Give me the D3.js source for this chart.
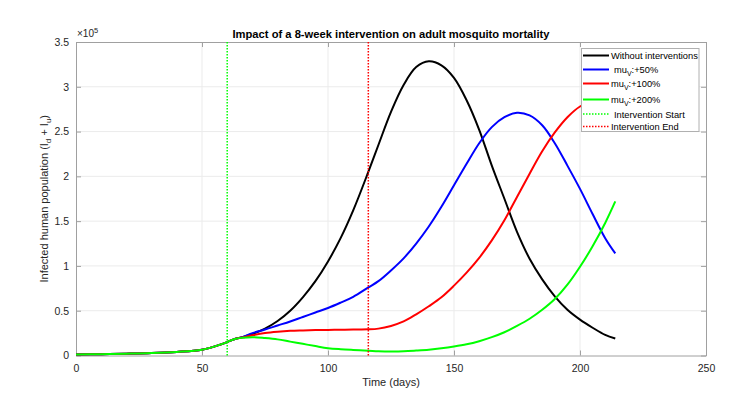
<!DOCTYPE html>
<html><head><meta charset="utf-8">
<script src="https://cdn.jsdelivr.net/npm/d3@7"></script>
<style>
body{margin:0;background:#fff;}
svg{display:block;font-family:"Liberation Sans",Arial,Helvetica,sans-serif;}
</style></head>
<body><svg id="c" width="737" height="398"></svg>
<script>
// ---- data (values in units of 1e5) ----
const days = [0,10,20,30,40,50,56,60,63,66,70,75,80,85,90,95,100,105,110,116,120,125,130,135,140,145,150,155,160,165,170,175,180,185,190,195,200,205,210,214];
const noIntervention = [0.01,0.015,0.02,0.027,0.04,0.065,0.11,0.15,0.185,0.205,0.24,0.30,0.385,0.50,0.65,0.83,1.05,1.31,1.62,2.05,2.35,2.72,3.02,3.22,3.285,3.24,3.10,2.85,2.52,2.12,1.75,1.38,1.08,0.85,0.66,0.51,0.40,0.31,0.23,0.19];
const mu50  = [0.01,0.015,0.02,0.027,0.04,0.065,0.11,0.15,0.185,0.205,0.25,0.29,0.335,0.38,0.43,0.48,0.53,0.59,0.655,0.76,0.83,0.95,1.085,1.25,1.44,1.66,1.90,2.14,2.37,2.55,2.66,2.71,2.68,2.57,2.37,2.12,1.86,1.58,1.31,1.14];
const mu100 = [0.01,0.015,0.02,0.027,0.04,0.065,0.11,0.15,0.185,0.2,0.225,0.25,0.265,0.275,0.28,0.284,0.286,0.288,0.29,0.292,0.30,0.33,0.38,0.46,0.55,0.65,0.78,0.925,1.09,1.285,1.51,1.77,2.03,2.28,2.49,2.66,2.78,2.84,2.86,2.85];
const mu200 = [0.01,0.015,0.02,0.027,0.04,0.065,0.11,0.15,0.185,0.198,0.205,0.195,0.18,0.155,0.13,0.105,0.082,0.07,0.062,0.054,0.048,0.045,0.047,0.055,0.065,0.08,0.10,0.125,0.16,0.205,0.26,0.33,0.41,0.51,0.63,0.79,0.99,1.22,1.48,1.72];
const interventionStart = 60, interventionEnd = 116;
const xTicks = [0,50,100,150,200,250];
const yTicks = [0,0.5,1,1.5,2,2.5,3,3.5];
const seriesNames = ["Without interventions","mu_V:+50%","mu_V:+100%","mu_V:+200%"];
const seriesColors = ["#000000","#0000ff","#ff0000","#00ff00"];
const titleText = "Impact of a 8-week intervention on adult mosquito mortality";

// ---- layout ----
const svg = d3.select("#c");
const L=76, R=706, T=42, B=355.5;
const x = d3.scaleLinear().domain([0,250]).range([L,R]);
const y = d3.scaleLinear().domain([0,3.5]).range([B,T]);
const axisCol = "#a0a0a0", txtCol="#262626", gridCol="#ebebeb";

// grid
svg.append("g").selectAll("line").data(xTicks.slice(1,-1)).join("line")
  .attr("x1",d=>x(d)).attr("x2",d=>x(d)).attr("y1",T).attr("y2",B)
  .attr("stroke",gridCol).attr("stroke-width",1);
svg.append("g").selectAll("line").data(yTicks.slice(1,-1)).join("line")
  .attr("y1",d=>y(d)).attr("y2",d=>y(d)).attr("x1",L).attr("x2",R)
  .attr("stroke",gridCol).attr("stroke-width",1);

// axes via d3 axis
const gx = svg.append("g").attr("transform",`translate(0,${B})`)
  .call(d3.axisBottom(x).tickValues(xTicks).tickSizeInner(-5).tickSizeOuter(0).tickPadding(9).tickFormat(d3.format("d")));
const gy = svg.append("g").attr("transform",`translate(${L},0)`)
  .call(d3.axisLeft(y).tickValues(yTicks).tickSizeInner(-5).tickSizeOuter(0).tickPadding(7).tickFormat(d=>d===0?"0":String(d)));
const gxt = svg.append("g").attr("transform",`translate(0,${T})`)
  .call(d3.axisTop(x).tickValues(xTicks).tickSizeInner(-5).tickSizeOuter(0).tickFormat(""));
const gyr = svg.append("g").attr("transform",`translate(${R},0)`)
  .call(d3.axisRight(y).tickValues(yTicks).tickSizeInner(-5).tickSizeOuter(0).tickFormat(""));
[gx,gy,gxt,gyr].forEach(g=>{
  g.select(".domain").attr("stroke",axisCol);
  g.selectAll(".tick line").attr("stroke",axisCol);
  g.selectAll(".tick text").attr("fill",txtCol).attr("font-size",10.5).attr("font-family",null);
});

// exponent label
const ex = svg.append("text").attr("x",L+1).attr("y",T-5).attr("fill",txtCol).attr("font-size",10);
ex.append("tspan").text("\u00d710");
ex.append("tspan").attr("dy",-4).attr("font-size",7.5).text("5");

// lines
const allSeries = [noIntervention, mu50, mu100, mu200];
const line = d3.line().x((d,i)=>x(days[i])).y(d=>y(d)).curve(d3.curveCatmullRom.alpha(0.5));
svg.append("g").selectAll("path").data(allSeries).join("path")
  .attr("d",d=>line(d)).attr("fill","none")
  .attr("stroke",(d,i)=>seriesColors[i]).attr("stroke-width",2);

// intervention lines
svg.append("line").attr("x1",x(interventionStart)).attr("x2",x(interventionStart)).attr("y1",T).attr("y2",B)
  .attr("stroke","#00ff00").attr("stroke-width",1.5).attr("stroke-dasharray","1.5,1.5");
svg.append("line").attr("x1",x(interventionEnd)).attr("x2",x(interventionEnd)).attr("y1",T).attr("y2",B)
  .attr("stroke","#ff0000").attr("stroke-width",1.5).attr("stroke-dasharray","1.5,1.5");

// title & labels
svg.append("text").attr("x",(L+R)/2).attr("y",38).attr("text-anchor","middle")
  .attr("font-weight","bold").attr("font-size",11.2).attr("fill","#000").text(titleText);
svg.append("text").attr("x",(L+R)/2).attr("y",386).attr("text-anchor","middle")
  .attr("font-size",11).attr("fill",txtCol).text("Time (days)");
const yl = svg.append("text").attr("transform",`translate(48,${(T+B)/2}) rotate(-90)`)
  .attr("text-anchor","middle").attr("font-size",11).attr("fill",txtCol);
yl.append("tspan").text("Infected human population (I");
yl.append("tspan").attr("dy",3).attr("font-size",8).text("d");
yl.append("tspan").attr("dy",-3).text(" + I");
yl.append("tspan").attr("dy",3).attr("font-size",8).text("u");
yl.append("tspan").attr("dy",-3).text(")");

// legend
const lg = svg.append("g");
lg.append("rect").attr("x",581.5).attr("y",48.5).attr("width",117.5).attr("height",83)
  .attr("fill","#fff").attr("stroke","#b0b0b0").attr("stroke-width",1);
const legendItems = [
  {name:seriesNames[0], color:seriesColors[0], dash:null},
  {name:seriesNames[1], color:seriesColors[1], dash:null},
  {name:seriesNames[2], color:seriesColors[2], dash:null},
  {name:seriesNames[3], color:seriesColors[3], dash:null},
  {name:"Intervention Start", color:"#00ff00", dash:"1.5,1.5"},
  {name:"Intervention End", color:"#ff0000", dash:"1.5,1.5"}
];
const rowY = [55.5, 69.5, 83.5, 99.5, 114, 126.5];
legendItems.forEach((it,i)=>{
  const yy = rowY[i];
  lg.append("line").attr("x1",583).attr("x2",609).attr("y1",yy).attr("y2",yy)
    .attr("stroke",it.color).attr("stroke-width",it.dash?1.5:2).attr("stroke-dasharray",it.dash);
  const t = lg.append("text").attr("x",611).attr("y",yy+3.5).attr("font-size",9.3).attr("fill","#000");
  if(it.name.startsWith("mu_V")){
    t.append("tspan").attr("dx", i===1?3:0).text("mu");
    t.append("tspan").attr("dy",3).attr("font-size",7).text("V");
    t.append("tspan").attr("dy",-3).text(it.name.slice(4));
  } else {
    t.attr("dx", i===4?3:0).text(it.name);
  }
});
</script></body></html>
